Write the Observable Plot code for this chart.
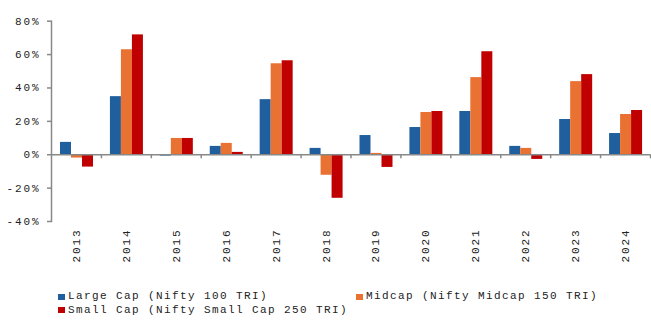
<!DOCTYPE html>
<html>
<head>
<meta charset="utf-8">
<script src="https://cdn.jsdelivr.net/npm/d3@7"></script>
<script src="https://cdn.jsdelivr.net/npm/@observablehq/plot@0.6"></script>
<style>
  html, body { margin: 0; padding: 0; background: #fff; }
  #wrap { position: relative; width: 651px; height: 322px; font-family: "Liberation Mono", "Courier New", monospace; }
  #wrap svg text { letter-spacing: 1.9px; }
  .leg { position: absolute; font-size: 11px; letter-spacing: 1.4px; color: #222; line-height: 13px; white-space: nowrap; }
  .sw { position: absolute; width: 7px; height: 6px; }
</style>
</head>
<body>
<div id="wrap"></div>
<script>
const years = ["2013","2014","2015","2016","2017","2018","2019","2020","2021","2022","2023","2024"];
const largeCap = [7.4, 34.8, -0.8, 5.0, 33.0, 3.8, 11.5, 16.3, 25.9, 5.0, 21.1, 12.7];
const midcap   = [-2.0, 62.9, 9.75, 6.8, 54.5, -12.3, 0.8, 25.3, 46.2, 3.8, 43.8, 24.1];
const smallCap = [-7.4, 71.8, 9.75, 1.4, 56.3, -26.1, -7.6, 25.9, 61.7, -2.8, 48.0, 26.5];
const seriesNames = ["Large Cap (Nifty 100 TRI)", "Midcap (Nifty Midcap 150 TRI)", "Small Cap (Nifty Small Cap 250 TRI)"];
const colors = ["#1F5F9E", "#E97132", "#C00000"];
const yTicks = [-40, -20, 0, 20, 40, 60, 80];

const rows = (vals) => years.map((y, i) => ({year: y, value: vals[i]}));
const axisGray = "#888888";
const bw = 599 / 12;

const chart = Plot.plot({
  width: 651,
  height: 285,
  marginLeft: 51,
  marginRight: 1,
  marginTop: 20.7,
  marginBottom: 64,
  style: {fontFamily: "'Liberation Mono', 'Courier New', monospace", fontSize: "11px", color: "#222", background: "#fff"},
  x: {domain: years, padding: 0, round: false},
  y: {domain: [-40, 80]},
  marks: [
    Plot.barY(rows(largeCap), {x: "year", y: "value", fill: colors[0], insetLeft: 9, insetRight: bw - 20}),
    Plot.barY(rows(midcap), {x: "year", y: "value", fill: colors[1], insetLeft: 20, insetRight: bw - 31}),
    Plot.barY(rows(smallCap), {x: "year", y: "value", fill: colors[2], insetLeft: 31, insetRight: bw - 42}),
    Plot.ruleY([0], {stroke: axisGray, strokeWidth: 1.5}),
    Plot.ruleX(years, {x: d => d, dx: bw / 2, y1: 0, y2: -2.4, stroke: axisGray, strokeWidth: 1.5}),
    Plot.frame({anchor: "left", stroke: axisGray, strokeWidth: 1.5}),
    Plot.axisY({ticks: yTicks, tickFormat: d => d + "%", tickSize: 4, tickPadding: 7, stroke: axisGray, strokeWidth: 1.5, label: null, fill: "#222"}),
    Plot.axisX({tickRotate: -90, tickSize: 0, tickPadding: 7, label: null, fill: "#222"})
  ]
});
const wrap = document.getElementById("wrap");
wrap.appendChild(chart);

const legendPos = [{x: 58, y: 297.3}, {x: 356, y: 297.3}, {x: 58, y: 310.7}];
seriesNames.forEach((name, i) => {
  const p = legendPos[i];
  const sw = document.createElement("div");
  sw.className = "sw";
  sw.style.left = p.x + "px";
  sw.style.top = (p.y - 3.5) + "px";
  sw.style.background = colors[i];
  wrap.appendChild(sw);
  const t = document.createElement("div");
  t.className = "leg";
  t.style.left = (p.x + 10) + "px";
  t.style.top = (p.y - 7) + "px";
  t.textContent = name;
  wrap.appendChild(t);
});
</script>
</body>
</html>
